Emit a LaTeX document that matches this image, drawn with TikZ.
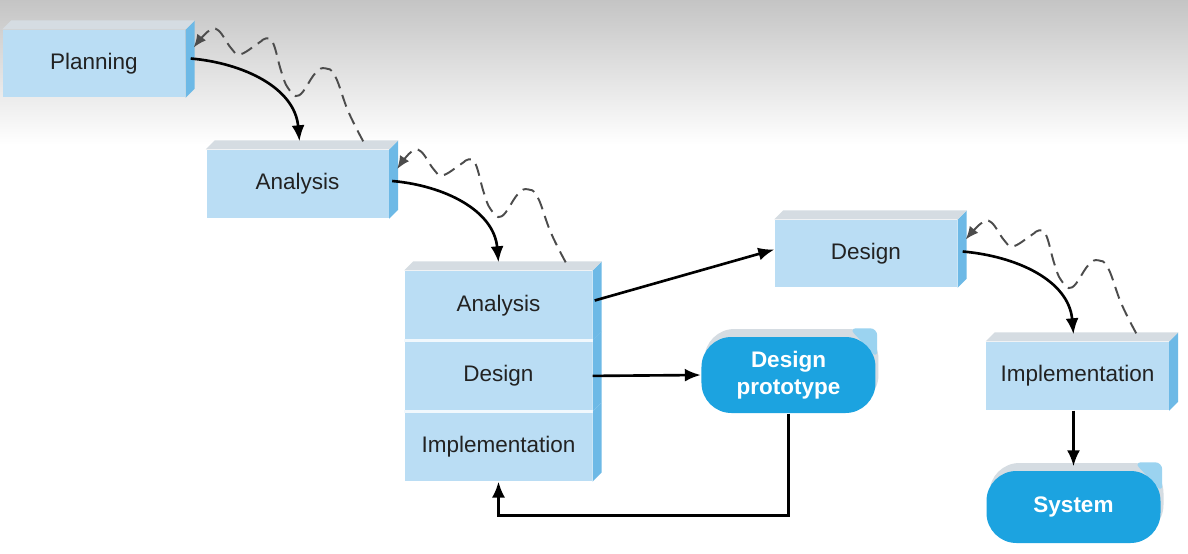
\documentclass[tikz,border=0pt]{standalone}
\usepackage{fontspec}
\setmainfont{Liberation Sans}
\usetikzlibrary{positioning,calc,arrows.meta}

\definecolor{facefront}{HTML}{BADDF4}
\definecolor{faceside}{HTML}{6DB9E6}
\definecolor{facetop}{HTML}{D5DCE2}
\definecolor{productfill}{HTML}{1CA3E0}
\definecolor{productrim}{HTML}{9BD3F0}
\definecolor{labeltext}{HTML}{222222}

% side and top faces of a phase box
\newcommand{\phaseside}[1]{\fill[faceside] (#1.north east) -- ++(0.09,0.09) -- ($(#1.south east)+(0.09,0.09)$) -- (#1.south east) -- cycle;}
\newcommand{\phasetop}[1]{\fill[facetop] (#1.north west) -- ++(0.09,0.09) -- ($(#1.north east)+(0.09,0.09)$) -- (#1.north east) -- cycle;}
% rim behind a product node
\newcommand{\productrim}[1]{\fill[productrim, rounded corners = 2pt] ($(#1.north east)+(-0.3,0)$) -- ($(#1.north east)+(-0.02,0)$) -- ($(#1.north east)+(-0.02,-0.3)$) -- cycle;}
% dashed way back from one phase to the one before
\newcommand{\reworkpath}[2]{\draw[backflow] plot[smooth, tension=0.7] coordinates {(#1) ($(#1)+(-0.15,0.30)$) ($(#1)+(-0.28,0.65)$) ($(#1)+(-0.38,0.73)$) ($(#1)+(-0.48,0.68)$) ($(#1)+(-0.64,0.46)$) ($(#1)+(-0.75,0.53)$) ($(#1)+(-0.82,0.70)$) ($(#1)+(-0.90,0.98)$) ($(#1)+(-0.97,1.03)$) ($(#1)+(-1.05,0.98)$) ($(#1)+(-1.23,0.87)$) ($(#1)+(-1.32,0.93)$) ($(#1)+(-1.45,1.11)$) ($(#1)+(-1.55,1.10)$) (#2)};}

\begin{document}
\begin{tikzpicture}[
  phase/.style = {fill = facefront, shape = rectangle, minimum width = 1.82cm, minimum height = 0.68cm, inner sep = 0pt, text = labeltext, font = \fontsize{6.4}{7.8}\selectfont},
  product/.style = {fill = productfill, shape = rectangle, rounded corners = 0.3cm, minimum width = 1.74cm, minimum height = 0.75cm, inner sep = 0pt, align = center, text = white, font = \fontsize{6.4}{7.8}\selectfont\bfseries},
  productback/.style = {product, fill = facetop},
  flow/.style = {line width = 0.75pt, -{Latex[length = 1.6mm, width = 1.3mm]}},
  backflow/.style = {dash pattern = on 3.5pt off 2pt, line width = 0.55pt, draw = black!70, -{Latex[length = 1.3mm, width = 1.1mm]}}
]
\useasboundingbox (0,0) rectangle (11.88,-5.54);
\fill[white] (0,0) rectangle (11.88,-5.54);
\shade[top color = black!23, bottom color = white] (0,0) rectangle (11.88,-1.45);

\node[phase, minimum height = 0.67cm] (planning) at (0.94,-0.635) {Planning};
\node[phase] (analysis) at (2.975,-1.84) {Analysis};
\node[phase, minimum width = 1.87cm, minimum height = 0.69cm] (stackanalysis) at (4.985,-3.055) {Analysis};
\node[phase, minimum width = 1.87cm, minimum height = 0.69cm, below = 0pt of stackanalysis] (stackdesign) {Design};
\node[phase, minimum width = 1.87cm, minimum height = 0.69cm, below = 0pt of stackdesign] (stackimpl) {Implementation};
\node[phase, minimum height = 0.67cm] (design) at (8.66,-2.535) {Design};
\node[phase] (implementation) at (10.775,-3.76) {Implementation};

\node[productback, minimum height = 0.76cm] (prototypeback) at (7.915,-3.67) {};
\productrim{prototypeback}
\node[product, minimum height = 0.76cm] (prototype) at (7.885,-3.75) {Design\\prototype};
\node[productback, minimum height = 0.72cm] (systemback) at (10.765,-4.99) {};
\productrim{systemback}
\node[product, minimum height = 0.72cm] (system) at (10.735,-5.07) {System};

\foreach \n in {planning, analysis, stackanalysis, stackdesign, stackimpl, design, implementation} {\phaseside{\n}}
\foreach \n in {planning, analysis, stackanalysis, design, implementation} {\phasetop{\n}}
\draw[white!80!facefront, line width = 0.8pt] (stackdesign.north west) -- (stackdesign.north east);
\draw[white!80!facefront, line width = 0.8pt] (stackimpl.north west) -- (stackimpl.north east);

% forward steps
\draw[flow] ($(planning.east)+(0.05,0.05)$) to[out = -5, in = 95] ($(analysis.north)+(0.02,0.08)$);
\draw[flow] ($(analysis.east)+(0.03,0.03)$) to[out = -5, in = 95] ($(stackanalysis.north)+(0,0.08)$);
\draw[flow] ($(design.east)+(0.05,0.02)$) to[out = -5, in = 95] ($(implementation.north)+(-0.04,0.07)$);
\draw[flow] ($(stackanalysis.east)+(0.02,0.05)$) -- ($(design.west)+(0,0.04)$);
\draw[flow] (stackdesign.east) -- (prototype.west);
\draw[flow] (prototype.south) -- ++(0,-1.02) -| (stackimpl.south);
\draw[flow] (system.north |- implementation.south) -- ($(system.north)+(0,0.04)$);

% ways back
\coordinate (backstartA) at ($(analysis.north east)+(-0.26,0.08)$);
\coordinate (backendA) at ($(planning.east)+(0.08,0.16)$);
\coordinate (backstartB) at ($(stackanalysis.north east)+(-0.27,0.08)$);
\coordinate (backendB) at ($(analysis.east)+(0.08,0.15)$);
\coordinate (backstartC) at ($(implementation.north east)+(-0.33,0.08)$);
\coordinate (backendC) at ($(design.east)+(0.08,0.14)$);
\reworkpath{backstartA}{backendA}
\reworkpath{backstartB}{backendB}
\reworkpath{backstartC}{backendC}
\end{tikzpicture}
\end{document}
